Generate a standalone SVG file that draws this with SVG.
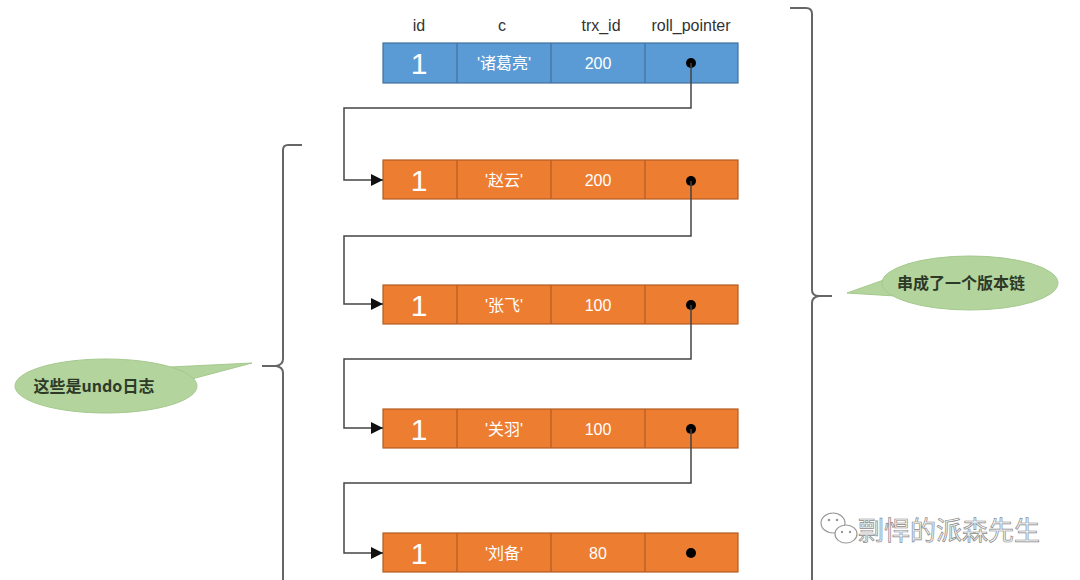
<svg xmlns="http://www.w3.org/2000/svg" width="1080" height="580" viewBox="0 0 1080 580">
<defs>
<marker id="arr" viewBox="0 0 10 10" refX="10" refY="5" markerWidth="12" markerHeight="12" markerUnits="userSpaceOnUse" orient="auto"><path d="M0,0 L10,5 L0,10 z" fill="#111"/></marker>
<style>
.hdr{font-family:"Liberation Sans",Arial,sans-serif;font-size:16px;fill:#333;text-anchor:middle}
.blue{fill:#5b9bd5;stroke:#41719c;stroke-width:1.2}
.orange{fill:#ed7d31;stroke:#b25d22;stroke-width:1.2}
.div-b{stroke:#41719c;stroke-width:1.2}
.div-o{stroke:#b25d22;stroke-width:1.2}
.one{font-family:"Liberation Sans",Arial,sans-serif;font-size:30px;fill:#fff;text-anchor:middle;font-weight:300}
.cell{font-family:"Liberation Sans","Noto Sans CJK SC",sans-serif;font-size:16px;fill:#fff;text-anchor:middle}
.dot{fill:#000}
.conn{fill:none;stroke:#444;stroke-width:1.5}
.brace{fill:none;stroke:#666;stroke-width:2}
.bubble{fill:#b3d49c;stroke:#a5c98e;stroke-width:1}
.btxt{font-family:"Noto Sans CJK SC",sans-serif;font-size:16px;fill:#2d3a28;text-anchor:middle;font-weight:bold}
.wm{font-family:"Noto Sans CJK SC",sans-serif;font-size:26px;fill:#f6f6f6;stroke:#8a8a8a;stroke-width:0.7}
</style>
</defs>
<rect width="1080" height="580" fill="#fff"/>

<g id="headers">
<text class="hdr" x="419" y="31">id</text>
<text class="hdr" x="502" y="31">c</text>
<text class="hdr" x="601" y="31">trx_id</text>
<text class="hdr" x="691" y="31">roll_pointer</text>
</g>

<g id="row0">
<rect class="blue" x="383" y="43" width="355" height="40"/>
<line class="div-b" x1="457" y1="43" x2="457" y2="83"/>
<line class="div-b" x1="551" y1="43" x2="551" y2="83"/>
<line class="div-b" x1="645" y1="43" x2="645" y2="83"/>
<text class="one" x="419" y="74">1</text>
<text class="cell" x="504" y="69">'诸葛亮'</text>
<text class="cell" x="598" y="69">200</text>
<circle class="dot" cx="691" cy="63" r="5"/>
</g>

<g id="row1">
<rect class="orange" x="383" y="160" width="355" height="39"/>
<line class="div-o" x1="457" y1="160" x2="457" y2="199"/>
<line class="div-o" x1="551" y1="160" x2="551" y2="199"/>
<line class="div-o" x1="645" y1="160" x2="645" y2="199"/>
<text class="one" x="419" y="191">1</text>
<text class="cell" x="504" y="186">'赵云'</text>
<text class="cell" x="598" y="186">200</text>
<circle class="dot" cx="691" cy="181" r="5"/>
</g>

<g id="row2">
<rect class="orange" x="383" y="285" width="355" height="39"/>
<line class="div-o" x1="457" y1="285" x2="457" y2="324"/>
<line class="div-o" x1="551" y1="285" x2="551" y2="324"/>
<line class="div-o" x1="645" y1="285" x2="645" y2="324"/>
<text class="one" x="419" y="316">1</text>
<text class="cell" x="504" y="311">'张飞'</text>
<text class="cell" x="598" y="311">100</text>
<circle class="dot" cx="691" cy="305" r="5"/>
</g>

<g id="row3">
<rect class="orange" x="383" y="409" width="355" height="39"/>
<line class="div-o" x1="457" y1="409" x2="457" y2="448"/>
<line class="div-o" x1="551" y1="409" x2="551" y2="448"/>
<line class="div-o" x1="645" y1="409" x2="645" y2="448"/>
<text class="one" x="419" y="440">1</text>
<text class="cell" x="504" y="435">'关羽'</text>
<text class="cell" x="598" y="435">100</text>
<circle class="dot" cx="691" cy="429" r="5"/>
</g>

<g id="row4">
<rect class="orange" x="383" y="533" width="355" height="39"/>
<line class="div-o" x1="457" y1="533" x2="457" y2="572"/>
<line class="div-o" x1="551" y1="533" x2="551" y2="572"/>
<line class="div-o" x1="645" y1="533" x2="645" y2="572"/>
<text class="one" x="419" y="564">1</text>
<text class="cell" x="504" y="559">'刘备'</text>
<text class="cell" x="598" y="559">80</text>
<circle class="dot" cx="691" cy="553" r="5"/>
</g>

<g id="connectors">
<path class="conn" marker-end="url(#arr)" d="M691,63 V108 H344 V180 H383"/>
<path class="conn" marker-end="url(#arr)" d="M691,181 V236 H344 V304 H383"/>
<path class="conn" marker-end="url(#arr)" d="M691,305 V359 H344 V428 H383"/>
<path class="conn" marker-end="url(#arr)" d="M691,429 V483 H344 V553 H383"/>
</g>

<g id="left-brace">
<path class="brace" d="M302,145 H288 Q283,145 283,150 V359 Q283,365 276,366 H262 M276,366 Q283,367 283,373 V585"/>
</g>

<g id="right-brace">
<path class="brace" d="M790,8 H806 Q812,8 812,14 V290 Q812,296 819,296 H832 M819,296 Q812,297 812,303 V585"/>
</g>

<g id="bubble-undo">
<path class="bubble" d="M170,367 L252,363 L188,380 Z"/>
<ellipse class="bubble" cx="106" cy="386" rx="91" ry="27"/>
<path d="M168,369 L186,382" stroke="#b3d49c" stroke-width="6"/>
<text class="btxt" x="94" y="392">这些是undo日志</text>
</g>

<g id="bubble-chain">
<path class="bubble" d="M895,276 L847,293 L895,296 Z"/>
<ellipse class="bubble" cx="970" cy="283" rx="88" ry="27"/>
<path d="M897,279 L897,294" stroke="#b3d49c" stroke-width="5"/>
<text class="btxt" x="961" y="289">串成了一个版本链</text>
</g>

<g id="watermark">
<ellipse cx="833" cy="523" rx="12" ry="10" fill="#fff" stroke="#999" stroke-width="1.2"/>
<ellipse cx="846" cy="534" rx="11" ry="9" fill="#fff" stroke="#999" stroke-width="1.2"/>
<circle cx="829" cy="520" r="1.3" fill="#999"/>
<circle cx="837" cy="520" r="1.3" fill="#999"/>
<circle cx="842" cy="532" r="1.2" fill="#999"/>
<circle cx="850" cy="532" r="1.2" fill="#999"/>
<text class="wm" x="858" y="540">剽悍的派森先生</text>
</g>
</svg>
